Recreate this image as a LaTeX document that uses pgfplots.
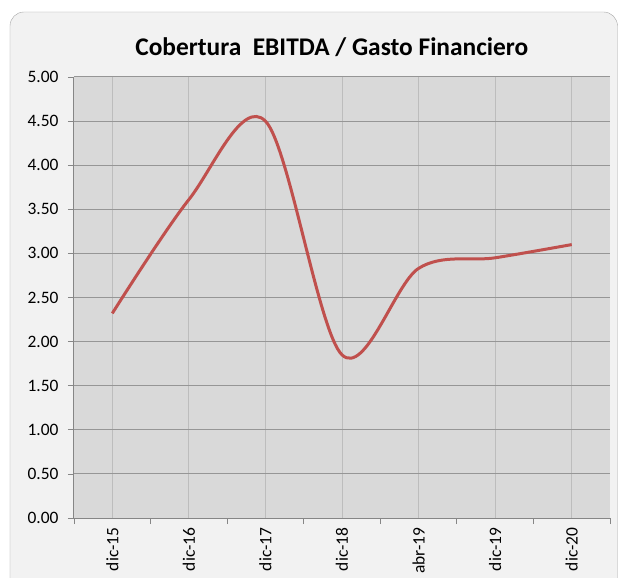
\documentclass[border=0pt]{standalone}
\usepackage{fontspec}
\setmainfont{Carlito}
\usepackage{pgfplots}
\pgfplotsset{compat=1.18}
\definecolor{ChartBg}{HTML}{F2F2F2}
\definecolor{PlotBg}{HTML}{D9D9D9}
\definecolor{HGrid}{HTML}{969696}
\definecolor{VGrid}{HTML}{BDBDBD}
\definecolor{AxisGray}{HTML}{868686}
\definecolor{Frame}{HTML}{A6A6A6}
\definecolor{LineRed}{HTML}{C0504D}
\begin{document}
\begin{tikzpicture}
\useasboundingbox (-74bp,-60bp) rectangle (545bp,518bp);
% chart area
\draw[draw=Frame, fill=ChartBg, rounded corners=14bp] (-64bp,-75bp) rectangle (543.5bp,506bp);
\begin{axis}[
  at={(0,0)}, anchor=south west,
  scale only axis,
  width=536bp, height=441bp,
  axis background/.style={fill=PlotBg},
  xmin=-0.5, xmax=6.5,
  ymin=0, ymax=5,
  xtick={0,...,6},
  xticklabels={dic-15,dic-16,dic-17,dic-18,abr-19,dic-19,dic-20},
  minor xtick={-0.5,0.5,...,6.5},
  ytick={0,0.5,...,5},
  y tick label style={/pgf/number format/fixed, /pgf/number format/fixed zerofill,
    /pgf/number format/precision=2, /pgf/number format/assume math mode=true,
    font=\fontsize{17.5}{19}\selectfont},
  x tick label style={rotate=90, anchor=east, font=\fontsize{17.5}{19}\selectfont},
  xticklabel shift=0bp,
  yticklabel shift=6bp,
  tick align=outside,
  major x tick style={draw=none},
  minor x tick style={draw=AxisGray, thick},
  major y tick style={draw=AxisGray, thick},
  major tick length=6bp,
  minor tick length=6bp,
  xmajorgrids, ymajorgrids,
  x grid style={VGrid, line width=1bp},
  y grid style={HGrid, line width=1bp},
  axis x line*=bottom, axis y line*=left,
  axis line style={draw=AxisGray, line width=1bp, -},
  title={Cobertura\ \ EBITDA / Gasto Financiero},
  title style={font=\bfseries\fontsize{25.5}{28}\selectfont, at={(axis description cs:0.481,1.066)}, anchor=center, yshift=-5bp},
]
\addplot[LineRed, line width=3bp, smooth, tension=0.55] coordinates {
  (0,2.32) (1,3.61) (2,4.50) (3,1.85) (4,2.83) (5,2.95) (6,3.10)
};
\end{axis}
\end{tikzpicture}
\end{document}
